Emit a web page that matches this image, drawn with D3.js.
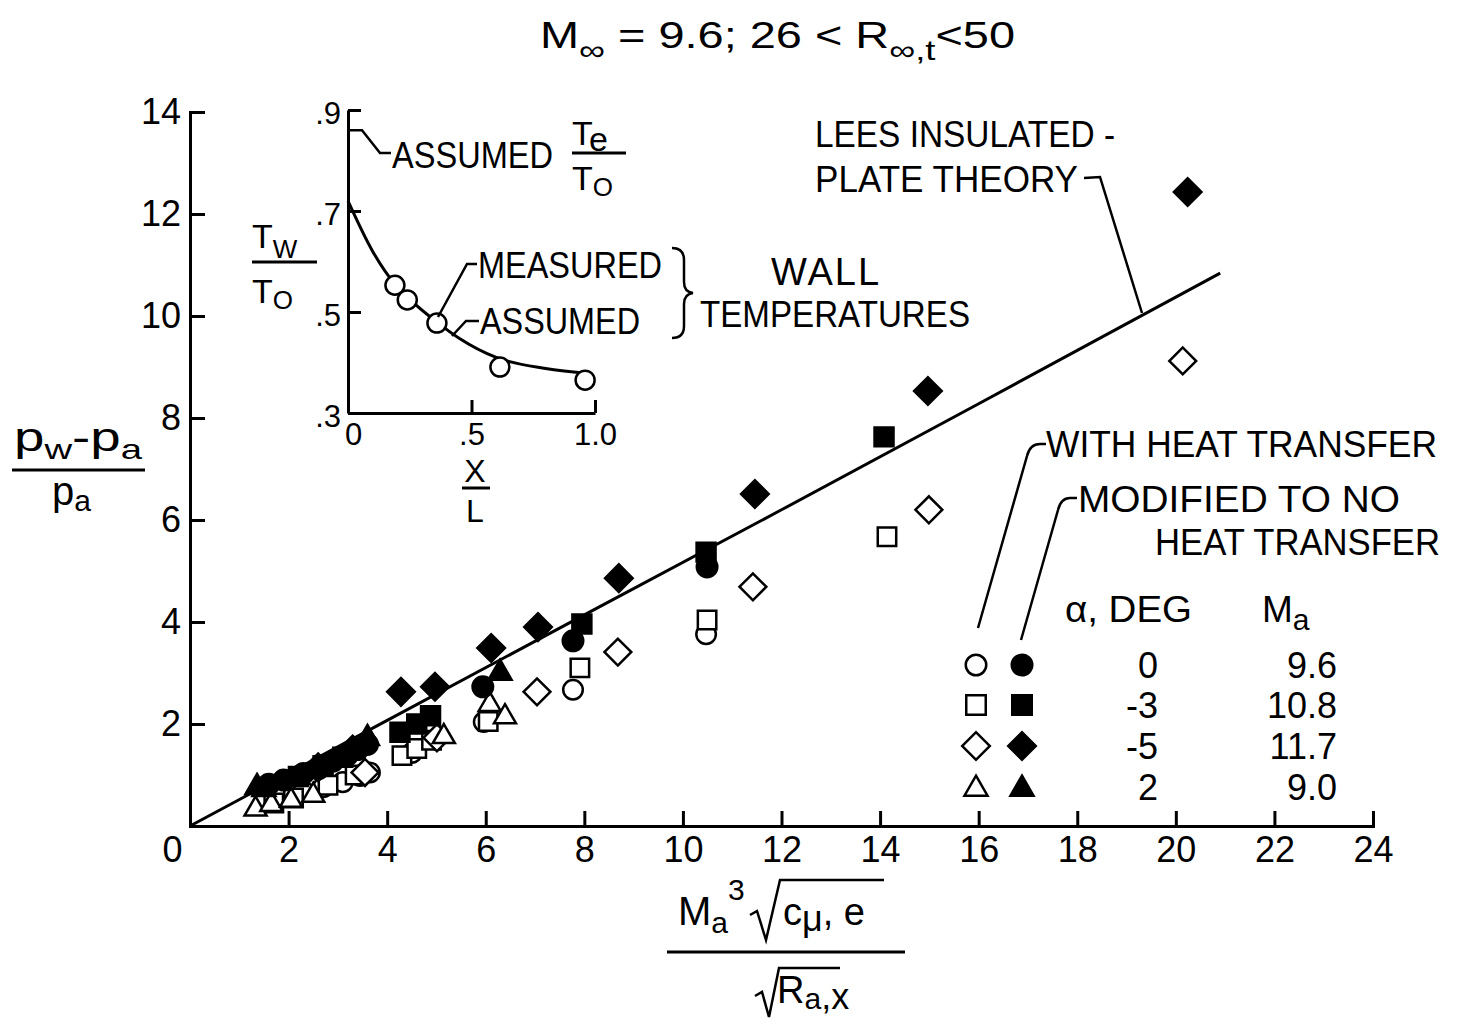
<!DOCTYPE html>
<html lang="en">
<head>
<meta charset="UTF-8">
<title>Pressure rise, Lees insulated-plate theory</title>
<script src="https://d3js.org/d3.v7.min.js"></script>
<style>
  body { margin: 0; background: #fff; }
  svg { font-family: "Liberation Sans", Arial, sans-serif; }
  text { fill: #000; }
  .axis path, .axis line { stroke: #000; stroke-width: 3px; }
  .axis text { font-size: 36px; font-family: "Liberation Sans", Arial, sans-serif; }
  .inset .axis text { font-size: 31px; }
  .lead { fill: none; stroke: #000; stroke-width: 2.5px; }
</style>
</head>
<body>
<svg width="1459" height="1033"></svg>
<script>
// main axes
const xTicks = [0, 2, 4, 6, 8, 10, 12, 14, 16, 18, 20, 22, 24];
const yTicks = [0, 2, 4, 6, 8, 10, 12, 14];
const yTickLabels = ["", "2", "4", "6", "8", "10", "12", "14"];

// Lees insulated-plate theory
const theoryX = [0, 4, 8, 12, 16, 20.9];
const theoryY = [0, 2.07, 4.14, 6.2, 8.28, 10.84];

// alpha = 0, Ma = 9.6
const openCircleX = [2.3, 2.7, 3.1, 3.45, 3.65, 4.5, 5.96, 7.77, 10.47];
const openCircleY = [0.68, 0.76, 0.86, 0.98, 1.05, 1.43, 2.04, 2.67, 3.76];
const fillCircleX = [1.6, 1.9, 2.3, 2.6, 2.9, 3.2, 3.4, 3.6, 5.94, 7.77, 10.49];
const fillCircleY = [0.82, 0.9, 1.03, 1.12, 1.27, 1.4, 1.5, 1.6, 2.73, 3.63, 5.08];

// alpha = -3, Ma = 10.8
const openSquareX = [1.7, 2.1, 2.8, 3.35, 4.3, 4.6, 4.9, 6.05, 7.91, 10.49, 14.14];
const openSquareY = [0.45, 0.55, 0.8, 1.0, 1.38, 1.52, 1.68, 2.05, 3.1, 4.04, 5.67];
const fillSquareX = [2.2, 2.7, 3.1, 4.26, 4.6, 4.88, 7.95, 10.47, 14.08];
const fillSquareY = [0.97, 1.18, 1.35, 1.84, 2.0, 2.16, 3.96, 5.37, 7.63];

// alpha = -5, Ma = 11.7
const openDiamondX = [3.55, 5.01, 7.04, 8.68, 11.42, 14.99, 20.14];
const openDiamondY = [1.05, 1.73, 2.63, 3.41, 4.69, 6.2, 9.12];
const fillDiamondX = [2.6, 3.3, 4.28, 4.97, 6.11, 7.06, 8.7, 11.46, 14.97, 20.24];
const fillDiamondY = [1.15, 1.5, 2.63, 2.73, 3.49, 3.9, 4.86, 6.51, 8.53, 12.43];

// alpha = 2, Ma = 9.0
const openTriX = [1.33, 1.65, 2.05, 2.5, 5.15, 6.08, 6.39];
const openTriY = [0.33, 0.42, 0.5, 0.6, 1.75, 2.38, 2.14];
const fillTriX = [1.36, 1.5, 3.6, 6.29];
const fillTriY = [0.76, 0.72, 1.72, 3.0];

// inset: wall temperature distribution
const insetXTicks = [0, 0.5, 1.0];
const insetXLabels = ["0", ".5", "1.0"];
const insetYTicks = [0.3, 0.5, 0.7, 0.9];
const insetYLabels = [".3", ".5", ".7", ".9"];
const insetCurveX = [0, 0.1, 0.19, 0.25, 0.36, 0.45, 0.6, 0.8, 0.98];
const insetCurveY = [0.72, 0.62, 0.555, 0.525, 0.48, 0.448, 0.41, 0.388, 0.378];
const insetPointX = [0.19, 0.24, 0.36, 0.615, 0.96];
const insetPointY = [0.553, 0.524, 0.478, 0.391, 0.365];

// legend
const legendAlpha = ["0", "-3", "-5", "2"];
const legendMa = ["9.6", "10.8", "11.7", "9.0"];

const svg = d3.select("svg");

const x = d3.scaleLinear().domain([0, 24]).range([190, 1373]);
const y = d3.scaleLinear().domain([0, 14]).range([826, 112]);

// X Axis
svg.append("g")
  .attr("class", "axis")
  .attr("transform", `translate(0,${y(0)})`)
  .call(d3.axisBottom(x).tickValues(xTicks).tickSizeInner(-15).tickSizeOuter(0).tickPadding(10))
  .call(g => g.select(".tick text").attr("x", -18));

// Y Axis
svg.append("g")
  .attr("class", "axis")
  .attr("transform", `translate(${x(0)},0)`)
  .call(d3.axisLeft(y).tickValues(yTicks).tickFormat((d, i) => yTickLabels[i])
    .tickSizeInner(-15).tickSizeOuter(0).tickPadding(9));

svg.selectAll(".axis .domain").attr("stroke-linecap", "square");

// theory line
const line = d3.line().x(d => x(d[0])).y(d => y(d[1]));
svg.append("path")
  .datum(d3.zip(theoryX, theoryY))
  .attr("d", line)
  .attr("fill", "none")
  .attr("stroke", "#000")
  .attr("stroke-width", 3);

// data points
const diamond = d3.symbolSquare;
const series = [
  { xs: openCircleX, ys: openCircleY, type: d3.symbolCircle, size: 300, filled: false, rot: 0 },
  { xs: openSquareX, ys: openSquareY, type: d3.symbolSquare, size: 340, filled: false, rot: 0 },
  { xs: openDiamondX, ys: openDiamondY, type: diamond, size: 360, filled: false, rot: 45 },
  { xs: openTriX, ys: openTriY, type: d3.symbolTriangle, size: 210, filled: false, rot: 0 },
  { xs: fillCircleX, ys: fillCircleY, type: d3.symbolCircle, size: 330, filled: true, rot: 0 },
  { xs: fillSquareX, ys: fillSquareY, type: d3.symbolSquare, size: 360, filled: true, rot: 0 },
  { xs: fillDiamondX, ys: fillDiamondY, type: diamond, size: 380, filled: true, rot: 45 },
  { xs: fillTriX, ys: fillTriY, type: d3.symbolTriangle, size: 230, filled: true, rot: 0 }
];

series.forEach(s => {
  svg.append("g").selectAll("path")
    .data(d3.zip(s.xs, s.ys))
    .enter()
    .append("path")
    .attr("transform", d => `translate(${x(d[0])},${y(d[1])}) rotate(${s.rot})`)
    .attr("d", d3.symbol().type(s.type).size(s.size)())
    .attr("fill", s.filled ? "#000" : "#fff")
    .attr("stroke", "#000")
    .attr("stroke-width", 2.5);
});

// text helper: parts are strings or [text, dy-offset, font-size]
function rich(x0, y0, parts, size, anchor) {
  const t = svg.append("text")
    .attr("x", x0).attr("y", y0)
    .attr("font-size", size)
    .attr("text-anchor", anchor || "start");
  let cur = 0;
  parts.forEach(p => {
    const [s, off, sz] = typeof p === "string" ? [p, 0, size] : p;
    t.append("tspan").attr("dy", off - cur).attr("font-size", sz || size).text(s);
    cur = off;
  });
  return t;
}
function label(x0, y0, s, size, len, anchor) {
  const t = svg.append("text")
    .attr("x", x0).attr("y", y0)
    .attr("font-size", size)
    .attr("text-anchor", anchor || "start")
    .text(s);
  if (len) t.attr("textLength", len).attr("lengthAdjust", "spacingAndGlyphs");
  return t;
}

// title
rich(540, 48, ["M", ["\u221E", 12, 28], [" = 9.6;  26 < R", 0, 36], ["\u221E,t", 12, 28], ["<50", 0, 36]], 36)
  .attr("textLength", 475).attr("lengthAdjust", "spacingAndGlyphs");

// y label
rich(14, 451, ["p", ["w", 8, 28], ["-p", 0, 40], ["a", 8, 28]], 40)
  .attr("textLength", 128).attr("lengthAdjust", "spacingAndGlyphs");
svg.append("line").attr("x1", 12).attr("x2", 145).attr("y1", 470).attr("y2", 470)
  .attr("stroke", "#000").attr("stroke-width", 3);
rich(52, 505, ["p", ["a", 6, 30]], 40);

// x label
rich(678, 925, ["M", ["a", 8, 30], ["3", -25, 30]], 40);
svg.append("path").attr("class", "lead")
  .attr("d", "M750,915 L757,911 L766,940 L780,880 L884,880").attr("stroke-width", 3);
rich(783, 925, ["c", ["\u03BC", 6, 36], [", e", 0, 38]], 38);
svg.append("line").attr("x1", 667).attr("x2", 905).attr("y1", 952).attr("y2", 952)
  .attr("stroke", "#000").attr("stroke-width", 3);
svg.append("path").attr("class", "lead")
  .attr("d", "M755,996 L762,992 L769,1017 L779,968 L840,968").attr("stroke-width", 3);
rich(777, 1003, ["R", ["a", 6, 30], [",x", 6, 36]], 38);

// annotations
label(815, 147, "LEES  INSULATED -", 37, 300);
label(815, 192, "PLATE  THEORY", 37, 263);
svg.append("path").attr("class", "lead").attr("d", "M1084,178 L1100,177 L1142,313");

label(826, 285, "WALL", 38, null, "middle").attr("letter-spacing", 2);
label(700, 327, "TEMPERATURES", 37, 270);
svg.append("path").attr("class", "lead")
  .attr("d", "M672,248 Q684,248 684,260 L684,282 Q684,292 693,293 Q684,294 684,304 L684,326 Q684,338 672,338")
  .attr("stroke-width", 3);

label(1046, 457, "WITH HEAT TRANSFER", 37, 391);
svg.append("path").attr("class", "lead").attr("d", "M978,628 L1027,456 Q1030,444 1040,444 L1046,444");
label(1078, 512, "MODIFIED TO NO", 37, 322);
label(1155, 555, "HEAT TRANSFER", 37, 285);
svg.append("path").attr("class", "lead").attr("d", "M1021,640 L1058,510 Q1061,498 1070,498 L1077,498");

// legend
label(1065, 622, "\u03B1, DEG", 37, 127);
rich(1262, 622, ["M", ["a", 8, 30]], 37);
const rowY = [665, 705, 746, 787];
const legendSyms = [
  [d3.symbolCircle, 330, 0],
  [d3.symbolSquare, 380, 0],
  [diamond, 380, 45],
  [d3.symbolTriangle, 230, 0]
];
rowY.forEach((ry, i) => {
  const [type, size, rot] = legendSyms[i];
  [[976, false], [1022, true]].forEach(([lx, filled]) => {
    svg.append("path")
      .attr("transform", `translate(${lx},${ry + (i === 3 ? 2 : 0)}) rotate(${rot})`)
      .attr("d", d3.symbol().type(type).size(size)())
      .attr("fill", filled ? "#000" : "#fff")
      .attr("stroke", "#000")
      .attr("stroke-width", 2.5);
  });
  label(1158, ry + 13, legendAlpha[i], 36, null, "end");
  label(1337, ry + 13, legendMa[i], 36, null, "end");
});

// inset
const ix = d3.scaleLinear().domain([0, 1]).range([348, 595]);
const iy = d3.scaleLinear().domain([0.3, 0.9]).range([413, 110]);
const inset = svg.append("g").attr("class", "inset");

inset.append("g")
  .attr("class", "axis")
  .attr("transform", `translate(0,${iy(0.3)})`)
  .call(d3.axisBottom(ix).tickValues(insetXTicks).tickFormat((d, i) => insetXLabels[i])
    .tickSizeInner(-13).tickSizeOuter(0).tickPadding(10))
  .call(g => g.select(".tick text").attr("x", 5));

inset.append("g")
  .attr("class", "axis")
  .attr("transform", `translate(${ix(0)},0)`)
  .call(d3.axisLeft(iy).tickValues(insetYTicks).tickFormat((d, i) => insetYLabels[i])
    .tickSizeInner(-13).tickSizeOuter(0).tickPadding(7))
  .call(g => g.selectAll("text").attr("dy", "0.45em"));

inset.append("path")
  .datum(d3.zip(insetCurveX, insetCurveY))
  .attr("d", d3.line().x(d => ix(d[0])).y(d => iy(d[1])).curve(d3.curveMonotoneX))
  .attr("fill", "none")
  .attr("stroke", "#000")
  .attr("stroke-width", 3);

inset.selectAll(".pt")
  .data(d3.zip(insetPointX, insetPointY))
  .enter()
  .append("circle")
  .attr("cx", d => ix(d[0]))
  .attr("cy", d => iy(d[1]))
  .attr("r", 9.5)
  .attr("fill", "#fff")
  .attr("stroke", "#000")
  .attr("stroke-width", 2.5);

// inset labels
svg.append("path").attr("class", "lead").attr("d", `M${ix(0)},${iy(0.86)} L362,${iy(0.86)} L380,153 L391,153`);
label(392, 168, "ASSUMED", 37, 161);
rich(572, 145, ["T", ["e", 6, 34]], 34);
svg.append("line").attr("x1", 572).attr("x2", 626).attr("y1", 153).attr("y2", 153)
  .attr("stroke", "#000").attr("stroke-width", 3);
rich(572, 190, ["T", ["O", 6, 26]], 34);

rich(252, 248, ["T", ["W", 10, 26]], 34);
svg.append("line").attr("x1", 252).attr("x2", 317).attr("y1", 262).attr("y2", 262)
  .attr("stroke", "#000").attr("stroke-width", 3);
rich(252, 303, ["T", ["O", 6, 26]], 34);

svg.append("path").attr("class", "lead").attr("d", "M438,317 L467,264 L477,264");
label(478, 278, "MEASURED", 37, 184);
svg.append("path").attr("class", "lead").attr("d", "M452,336 L466,321 L479,321");
label(480, 334, "ASSUMED", 37, 160);

rich(475, 482, ["X"], 32, "middle");
svg.append("line").attr("x1", 462).attr("x2", 490).attr("y1", 488).attr("y2", 488)
  .attr("stroke", "#000").attr("stroke-width", 3);
rich(475, 522, ["L"], 32, "middle");
</script>
</body>
</html>
